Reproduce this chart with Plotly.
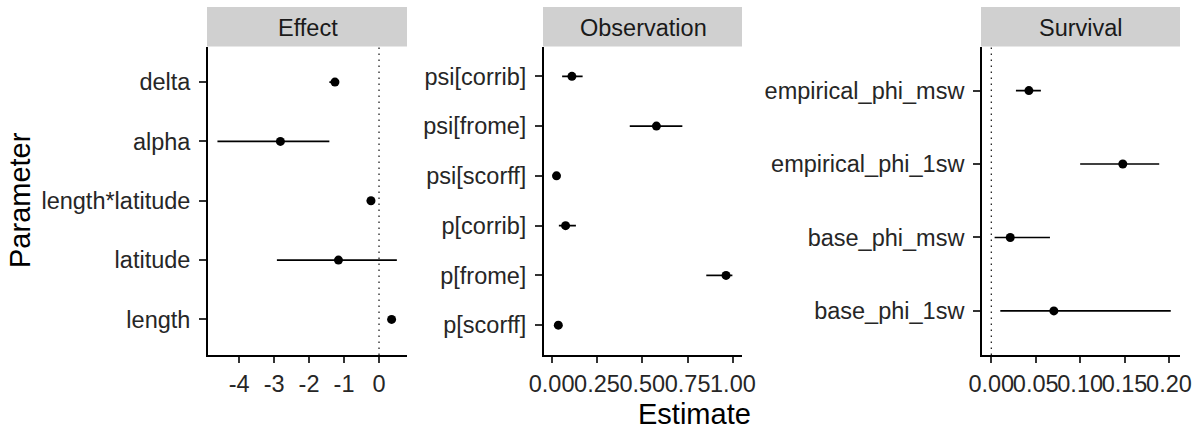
import plotly.graph_objects as go

# Posterior estimates with credible intervals, one facet per parameter group
effect_params = ["delta", "alpha", "length*latitude", "latitude", "length"]
effect_est = [-1.26, -2.82, -0.23, -1.16, 0.36]
effect_lo = [-1.42, -4.62, -0.35, -2.92, 0.28]
effect_hi = [-1.15, -1.42, -0.12, 0.51, 0.44]

obs_params = ["psi[corrib]", "psi[frome]", "psi[scorff]", "p[corrib]", "p[frome]", "p[scorff]"]
obs_est = [0.112, 0.578, 0.027, 0.077, 0.962, 0.037]
obs_lo = [0.058, 0.431, 0.012, 0.040, 0.853, 0.022]
obs_hi = [0.171, 0.721, 0.045, 0.134, 0.997, 0.055]

surv_params = ["empirical_phi_msw", "empirical_phi_1sw", "base_phi_msw", "base_phi_1sw"]
surv_est = [0.0423, 0.148, 0.0213, 0.0704]
surv_lo = [0.0277, 0.100, 0.0037, 0.0101]
surv_hi = [0.0558, 0.189, 0.066, 0.202]

effect_ticks = [-4, -3, -2, -1, 0]
effect_ticklabels = ["-4", "-3", "-2", "-1", "0"]
obs_ticks = [0, 0.25, 0.5, 0.75, 1.0]
obs_ticklabels = ["0.00", "0.25", "0.50", "0.75", "1.00"]
surv_ticks = [0, 0.05, 0.10, 0.15, 0.20]
surv_ticklabels = ["0.00", "0.05", "0.10", "0.15", "0.20"]

facet_titles = ["Effect", "Observation", "Survival"]

W, H = 1200, 432
FONT = "Liberation Sans, Arial, sans-serif"
TICK_COLOR = "#262626"

def px_x(p):
    return p / W

def px_y(p):
    return 1 - p / H

panels = [
    dict(params=effect_params, est=effect_est, lo=effect_lo, hi=effect_hi,
         ticks=effect_ticks, labels=effect_ticklabels, xr=[-4.89, 0.80],
         left=208, right=407, vline=True),
    dict(params=obs_params, est=obs_est, lo=obs_lo, hi=obs_hi,
         ticks=obs_ticks, labels=obs_ticklabels, xr=[-0.042, 1.05],
         left=544, right=742, vline=False),
    dict(params=surv_params, est=surv_est, lo=surv_lo, hi=surv_hi,
         ticks=surv_ticks, labels=surv_ticklabels, xr=[-0.0105, 0.2124],
         left=982, right=1180, vline=True),
]

top_px, bottom_px = 46.5, 355
strip_top_px = 7

fig = go.Figure()
layout = {}
shapes = []
annotations = []

for i, p in enumerate(panels):
    n = i + 1
    xa = "x" if n == 1 else f"x{n}"
    ya = "y" if n == 1 else f"y{n}"
    xkey = "xaxis" if n == 1 else f"xaxis{n}"
    ykey = "yaxis" if n == 1 else f"yaxis{n}"

    plus = [h - e for h, e in zip(p["hi"], p["est"])]
    minus = [e - l for e, l in zip(p["est"], p["lo"])]
    fig.add_trace(go.Scatter(
        x=p["est"], y=p["params"], mode="markers",
        marker=dict(color="black", size=9),
        error_x=dict(type="data", symmetric=False, array=plus, arrayminus=minus,
                     color="black", thickness=1.7, width=0),
        xaxis=xa, yaxis=ya, showlegend=False, hoverinfo="skip",
    ))

    ncat = len(p["params"])
    layout[xkey] = dict(
        domain=[px_x(p["left"]), px_x(p["right"])],
        anchor=ya, range=p["xr"], tickmode="array",
        tickvals=p["ticks"], ticktext=p["labels"], tickangle=0,
        automargin=False,
        showgrid=False, zeroline=False, showline=True,
        linecolor="black", linewidth=1.8,
        ticks="outside", ticklen=6, tickwidth=1.6, tickcolor="#333333",
        ticklabelstandoff=1,
        tickfont=dict(family=FONT, size=23.5, color=TICK_COLOR),
    )
    layout[ykey] = dict(
        domain=[px_y(bottom_px), px_y(top_px)],
        anchor=xa, type="category", categoryorder="array",
        categoryarray=p["params"], range=[ncat - 1 + 0.6, -0.6],
        automargin=False,
        showgrid=False, zeroline=False, showline=True,
        linecolor="black", linewidth=1.8,
        ticks="outside", ticklen=7, tickwidth=1.6, tickcolor="#333333",
        ticklabelstandoff=4,
        tickfont=dict(family=FONT, size=23.5, color=TICK_COLOR),
    )

    if p["vline"]:
        shapes.append(dict(type="line", xref=xa, yref=f"{ya} domain",
                           x0=0, x1=0, y0=0, y1=1,
                           line=dict(color="#222222", width=1.3, dash="1.5px,4.5px")))

    # facet strip
    shapes.append(dict(type="rect", xref="paper", yref="paper",
                       x0=px_x(p["left"] - 1), x1=px_x(p["right"]),
                       y0=px_y(top_px), y1=px_y(strip_top_px),
                       fillcolor="#D0D0D0", line=dict(width=0), layer="below"))
    annotations.append(dict(
        xref="paper", yref="paper",
        x=px_x((p["left"] + p["right"]) / 2), y=px_y((top_px + strip_top_px) / 2 + 1.5),
        text=facet_titles[i], showarrow=False, xanchor="center", yanchor="middle",
        font=dict(family=FONT, size=23.5, color="#1A1A1A"),
    ))

annotations.append(dict(
    xref="paper", yref="paper", x=px_x(694), y=px_y(414),
    text="Estimate", showarrow=False, xanchor="center", yanchor="middle",
    font=dict(family=FONT, size=29, color="black"),
))
annotations.append(dict(
    xref="paper", yref="paper", x=px_x(20), y=px_y(200),
    text="Parameter", textangle=-90, showarrow=False,
    xanchor="center", yanchor="middle",
    font=dict(family=FONT, size=29, color="black"),
))

fig.update_layout(
    width=W, height=H,
    margin=dict(l=0, r=0, t=0, b=0),
    paper_bgcolor="white", plot_bgcolor="white",
    shapes=shapes, annotations=annotations,
    **layout,
)

fig.write_html("out.html")
